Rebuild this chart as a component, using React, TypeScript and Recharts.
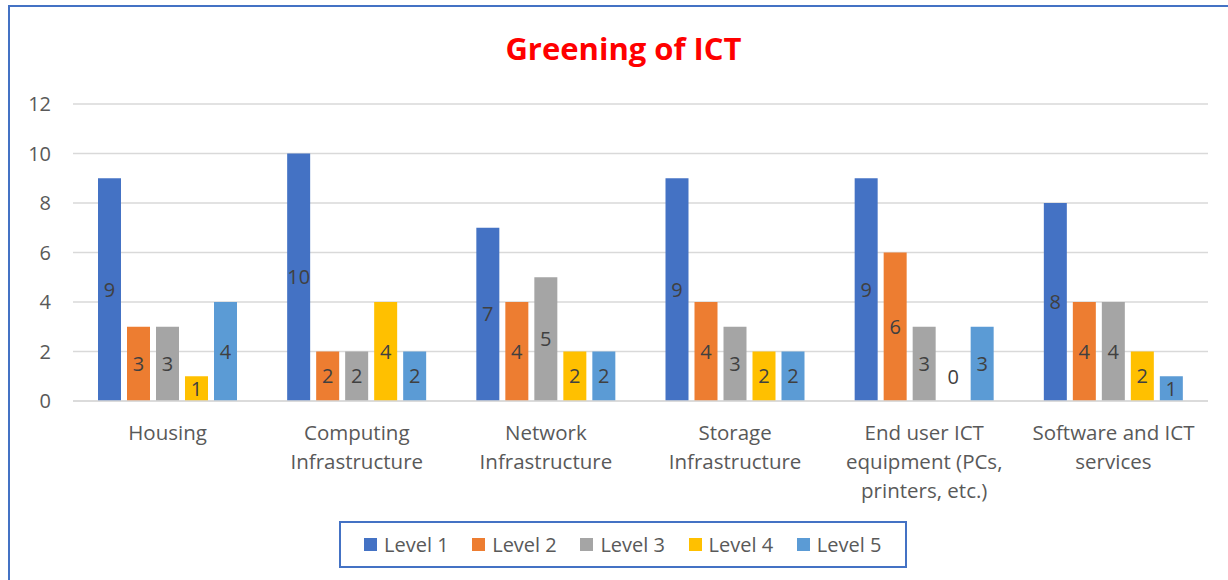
import React from "react";
import {
  BarChart,
  Bar,
  XAxis,
  YAxis,
  CartesianGrid,
  Legend,
  LabelList,
} from "recharts";

const categories = [
  "Housing",
  "Computing Infrastructure",
  "Network Infrastructure",
  "Storage Infrastructure",
  "End user ICT equipment (PCs, printers, etc.)",
  "Software and ICT services",
];

// how each category label wraps under the axis
const categoryLines = [
  ["Housing"],
  ["Computing", "Infrastructure"],
  ["Network", "Infrastructure"],
  ["Storage", "Infrastructure"],
  ["End user ICT", "equipment (PCs,", "printers, etc.)"],
  ["Software and ICT", "services"],
];

const level1 = [9, 10, 7, 9, 9, 8];
const level2 = [3, 2, 4, 4, 6, 4];
const level3 = [3, 2, 5, 3, 3, 4];
const level4 = [1, 4, 2, 2, 0, 2];
const level5 = [4, 2, 2, 2, 3, 1];

const yTicks = [0, 2, 4, 6, 8, 10, 12];

const seriesNames = ["Level 1", "Level 2", "Level 3", "Level 4", "Level 5"];
const seriesColors = ["#4472C4", "#ED7D31", "#A5A5A5", "#FFC000", "#5B9BD5"];

const data = categories.map((name, i) => ({
  name,
  l1: level1[i],
  l2: level2[i],
  l3: level3[i],
  l4: level4[i],
  l5: level5[i],
}));

const FONT = "'Open Sans', 'Noto Sans', sans-serif";

function CategoryTick(props: any) {
  const { x, y, payload } = props;
  const lines = categoryLines[payload.index] ?? [payload.value];
  return (
    <g transform={`translate(${x},${y})`}>
      {lines.map((line: string, i: number) => (
        <text
          key={i}
          x={0}
          y={39 + i * 29}
          textAnchor="middle"
          fill="#595959"
          fontSize={20.5}
          fontFamily={FONT}
        >
          {line}
        </text>
      ))}
    </g>
  );
}

// value labels sit in the middle of the bar; a zero bar gets its label lifted
function renderValue(props: any) {
  const { x, y, width, height, value } = props;
  const h = Math.abs(Number(height) || 0);
  const cy = h > 1 ? Number(y) + Number(height) / 2 : Number(y) - 24;
  return (
    <text
      x={Number(x) + Number(width) / 2}
      y={cy}
      dy="0.35em"
      textAnchor="middle"
      fill="#404040"
      fontSize={20}
      fontFamily={FONT}
    >
      {value}
    </text>
  );
}

function LegendBox(props: any) {
  const payload = props.payload ?? [];
  return (
    <div
      style={{
        boxSizing: "border-box",
        width: 568,
        height: 47,
        border: "2px solid #4472C4",
        display: "flex",
        alignItems: "center",
        paddingLeft: 23,
        fontFamily: FONT,
        fontSize: 20,
        color: "#595959",
        background: "#fff",
      }}
    >
      {payload.map((entry: any, i: number) => (
        <div
          key={i}
          style={{ width: 110.5, display: "flex", alignItems: "center" }}
        >
          <span
            style={{
              display: "inline-block",
              width: 13,
              height: 13,
              background: entry.color,
              marginRight: 7,
            }}
          />
          <span style={{ lineHeight: "20px" }}>{entry.value}</span>
        </div>
      ))}
    </div>
  );
}

export default function App() {
  const keys = ["l1", "l2", "l3", "l4", "l5"];
  return (
    <div
      style={{
        position: "fixed",
        left: 0,
        top: 0,
        width: 1228,
        height: 580,
        overflow: "hidden",
        background: "#fff",
      }}
    >
      <div
        style={{
          position: "absolute",
          left: 8,
          top: 5,
          width: 1260,
          height: 620,
          borderLeft: "2px solid #4472C4",
          borderTop: "2px solid #4472C4",
        }}
      />
      <div
        style={{
          position: "absolute",
          left: 0,
          top: 33,
          width: 1247,
          textAlign: "center",
          fontFamily: FONT,
          fontWeight: 700,
          fontSize: 31,
          lineHeight: "30px",
          color: "#FF0000",
        }}
      >
        Greening of ICT
      </div>
      <div style={{ position: "absolute", left: 0, top: 0 }}>
        <BarChart
          width={1228}
          height={580}
          data={data}
          margin={{ top: 104, right: 20, left: 13, bottom: 79 }}
          barCategoryGap={25}
          barGap={6}
        >
          <CartesianGrid vertical={false} stroke="#D9D9D9" strokeWidth={1.5} />
          <XAxis
            dataKey="name"
            interval={0}
            height={100}
            tickLine={false}
            tickSize={0}
            tickMargin={0}
            axisLine={{ stroke: "#D9D9D9", strokeWidth: 1.5 }}
            tick={<CategoryTick />}
          />
          <YAxis
            domain={[0, 12]}
            ticks={yTicks}
            width={60}
            axisLine={false}
            tickLine={false}
            tickSize={0}
            tickMargin={22}
            tick={{ fill: "#595959", fontSize: 20, fontFamily: FONT }}
          />
          <Legend
            layout="horizontal"
            align="center"
            verticalAlign="middle"
            width={568}
            height={47}
            wrapperStyle={{ left: 339, top: 521, width: 568, height: 47 }}
            content={<LegendBox />}
          />
          {keys.map((k, i) => (
            <Bar
              key={k}
              dataKey={k}
              name={seriesNames[i]}
              fill={seriesColors[i]}
              minPointSize={0.01}
              isAnimationActive={false}
            >
              <LabelList dataKey={k} content={renderValue} />
            </Bar>
          ))}
        </BarChart>
      </div>
    </div>
  );
}
